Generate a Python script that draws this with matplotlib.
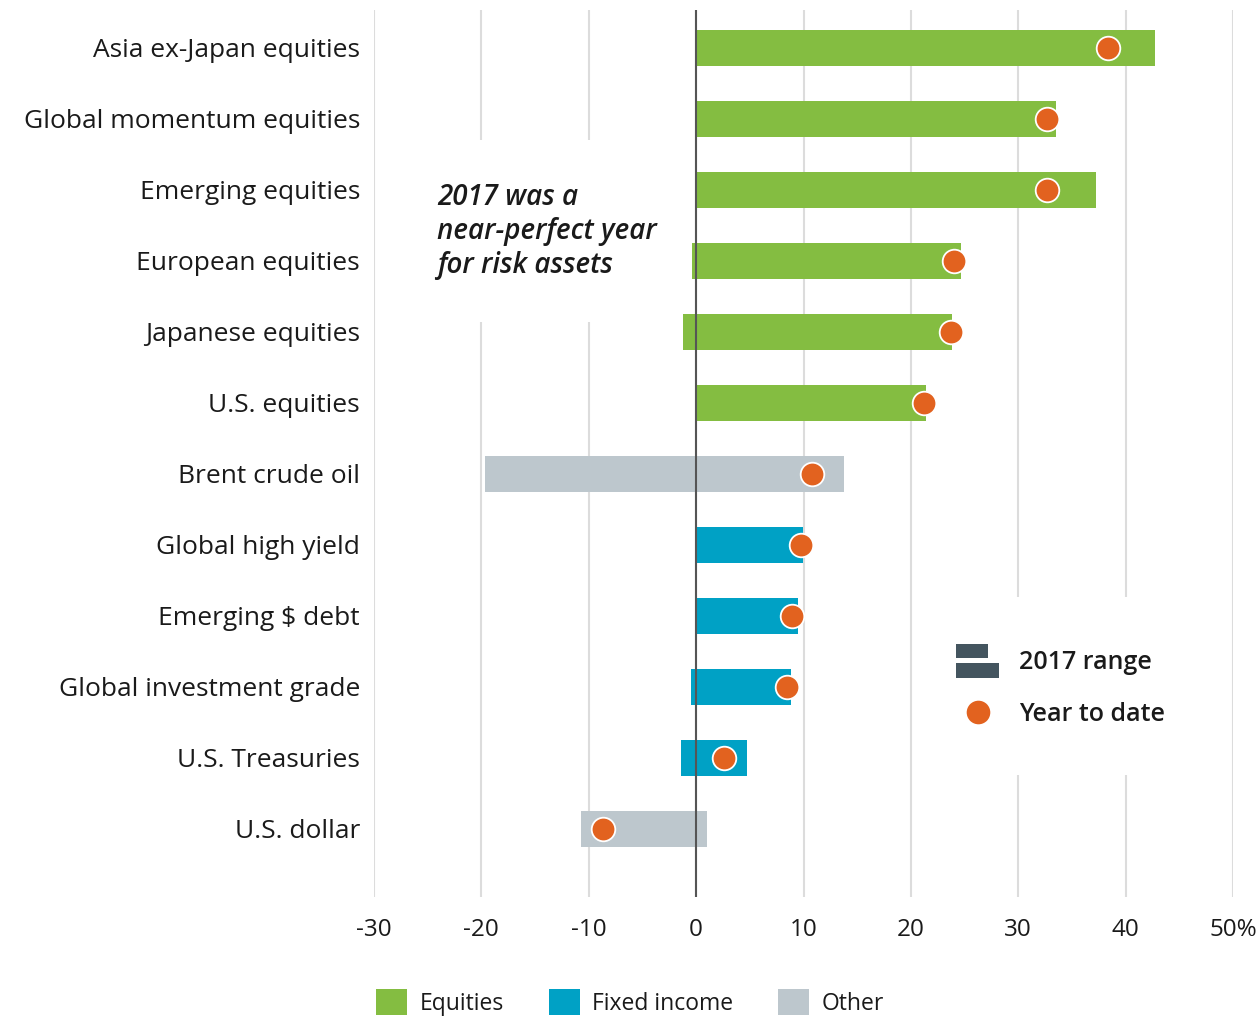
import matplotlib
matplotlib.use('Agg')
import matplotlib.pyplot as plt
from matplotlib.patches import Rectangle, Patch
from matplotlib.lines import Line2D
from matplotlib.legend_handler import HandlerBase
import numpy as np

plt.rcParams['font.family'] = ['Open Sans', 'DejaVu Sans']

# data (in %)
assets = ['Asia ex-Japan equities', 'Global momentum equities', 'Emerging equities',
          'European equities', 'Japanese equities', 'U.S. equities', 'Brent crude oil',
          'Global high yield', 'Emerging $ debt', 'Global investment grade',
          'U.S. Treasuries', 'U.S. dollar']
groups = ['Equities', 'Equities', 'Equities', 'Equities', 'Equities', 'Equities', 'Other',
          'Fixed income', 'Fixed income', 'Fixed income', 'Fixed income', 'Other']
range_low = [0.0, 0.0, 0.0, -0.4, -1.2, 0.0, -19.7, 0.0, 0.0, -0.45, -1.4, -10.7]
range_high = [42.7, 33.5, 37.2, 24.7, 23.8, 21.4, 13.8, 9.95, 9.5, 8.85, 4.75, 1.0]
ytd = [38.4, 32.7, 32.7, 24.0, 23.7, 21.2, 10.8, 9.8, 8.9, 8.5, 2.6, -8.7]
xticks = [-30, -20, -10, 0, 10, 20, 30, 40, 50]
xticklabels = ['-30', '-20', '-10', '0', '10', '20', '30', '40', '50%']

colors = {'Equities': '#84bd41', 'Fixed income': '#00a1c5', 'Other': '#bdc7cd'}
dot_color = '#e2621f'
range_icon = '#44555f'


class HandlerRange(HandlerBase):
    # two stacked bars for the "2017 range" key
    def create_artists(self, legend, orig_handle, xdescent, ydescent,
                       width, height, fontsize, trans):
        y0 = -ydescent - 0.55 * height
        h = height * 1.95
        bot = Rectangle((-xdescent, y0), width, h * 0.45, facecolor=range_icon,
                        edgecolor='none', transform=trans)
        top = Rectangle((-xdescent, y0 + h * 0.6), width * 0.74, h * 0.4,
                        facecolor=range_icon, edgecolor='none', transform=trans)
        return [bot, top]


fig = plt.figure(figsize=(12.57, 10.18), dpi=100)
ax = fig.add_axes([374 / 1257, 1 - 897 / 1018, 859 / 1257, 887 / 1018])

y = np.arange(len(assets))
widths = [h - l for l, h in zip(range_low, range_high)]
bar_colors = [colors[g] for g in groups]
ax.barh(y, widths, left=range_low, height=0.5, color=bar_colors, zorder=2)
ax.plot(ytd, y, 'o', ms=17, mfc=dot_color, mec='white', mew=1.3, ls='none', zorder=4)

ax.axvline(0, color='#555555', lw=1.5, zorder=3)

ax.set_xlim(-30, 50)
ax.set_ylim(len(assets) - 0.04, -0.535)
ax.set_xticks(xticks)
ax.set_xticklabels(xticklabels)
ax.set_yticks(y)
ax.set_yticklabels(assets)
ax.tick_params(axis='both', length=0, colors='#1a1a1a')
ax.tick_params(axis='x', pad=15, labelsize=17.5)
ax.tick_params(axis='y', pad=10, labelsize=19)
for s in ax.spines.values():
    s.set_visible(False)
ax.set_axisbelow(True)
ax.grid(axis='x', color='#dcdcdc', lw=1.5)
ax.grid(axis='y', visible=False)

# white gaps in the grid behind the note and the key
ax.add_patch(Rectangle((-25, 1.3), 20, 2.56, facecolor='white', edgecolor='none', zorder=1))
ax.add_patch(Rectangle((25, 7.73), 20, 2.51, facecolor='white', edgecolor='none', zorder=1))

ax.text(-24.1, 1.9, '2017 was a\nnear-perfect year\nfor risk assets', ha='left', va='top',
        fontsize=20, style='italic', fontweight='semibold', linespacing=1.24,
        color='#1a1a1a', zorder=3)

handles = [Patch(), Line2D([], [], marker='o', ls='none', ms=17, mfc=dot_color, mec='none')]
leg = ax.legend(handles, ['2017 range', 'Year to date'], loc='upper left',
                bbox_to_anchor=(0.6635, 0.293), frameon=False, borderpad=0,
                fontsize=18, handlelength=1.7, handletextpad=0.8, labelspacing=1.1,
                handler_map={Patch: HandlerRange()})
for t in leg.get_texts():
    t.set_fontweight('semibold')
    t.set_color('#1a1a1a')

group_handles = [Patch(facecolor=colors[g], edgecolor='none') for g in ['Equities', 'Fixed income', 'Other']]
fig.legend(group_handles, ['Equities', 'Fixed income', 'Other'], loc='lower left',
           bbox_to_anchor=(365 / 1257, -0.009), ncol=3, frameon=False, borderpad=0,
           fontsize=16.5, handlelength=1.35, handleheight=1.35, handletextpad=0.55,
           columnspacing=1.95, labelcolor='#1a1a1a')

fig.savefig('out.png', dpi=100)
